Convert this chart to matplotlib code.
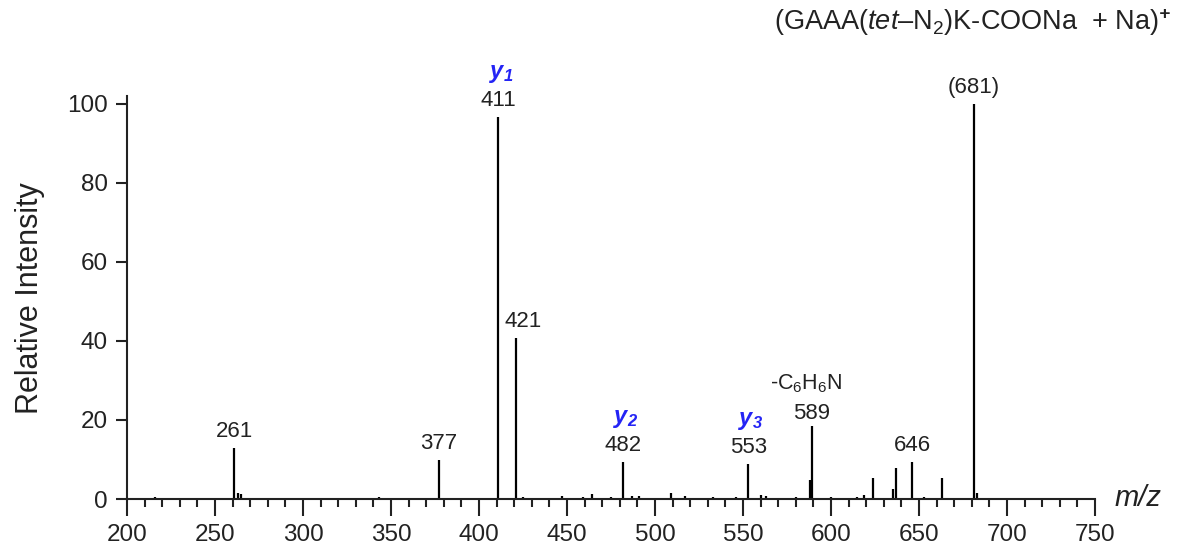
import numpy as np
import matplotlib.pyplot as plt
from matplotlib.ticker import MultipleLocator

plt.rcParams['font.family'] = ['Liberation Sans', 'DejaVu Sans']
plt.rcParams['mathtext.fontset'] = 'custom'
plt.rcParams['mathtext.rm'] = 'Liberation Sans'
plt.rcParams['mathtext.it'] = 'Liberation Sans:italic'
plt.rcParams['mathtext.bf'] = 'Liberation Sans:italic:bold'

# peak list (m/z, relative intensity)
mz = [216, 243, 261, 263, 265, 300, 320, 336, 343, 377,
      411, 421, 425, 447, 459, 464, 475, 482, 487, 491,
      509, 517, 533, 546, 553, 560, 563, 580, 588, 589,
      600, 615, 619, 624, 635, 637, 646, 653, 663, 681, 683]
intensity = [0.5, 0.3, 13.0, 1.4, 1.2, 0.3, 0.3, 0.3, 0.4, 9.9,
             96.7, 40.8, 0.6, 0.8, 0.5, 1.2, 0.4, 9.3, 0.8, 0.8,
             1.5, 0.8, 0.6, 0.5, 8.8, 1.0, 0.8, 0.5, 4.8, 18.5,
             0.4, 0.6, 1.0, 5.4, 2.5, 7.9, 9.3, 0.5, 5.3, 100.0, 1.5]

label_mz = [261, 377, 411, 421, 482, 553, 589, 646, 681]
label_text = ['261', '377', '411', '421', '482', '553', '589', '646', '(681)']
ion_mz = [411, 482, 553]
ion_text = [r'$\mathbf{y_1}$', r'$\mathbf{y_2}$', r'$\mathbf{y_3}$']

title = r'(GAAA($\mathit{tet}$–N$_2$)K-COONa  + Na)$^{\mathbf{+}}$'

fig = plt.figure(figsize=(11.8, 5.54), dpi=100)
ax = fig.add_axes([127 / 1180, 55 / 554, 968 / 1180, 403 / 554])

ax.vlines(mz, 0, intensity, color='black', lw=1.6)

ax.set_xlim(200, 750)
ax.set_ylim(0, 102)
ax.spines['top'].set_visible(False)
ax.spines['right'].set_visible(False)
for s in ['left', 'bottom']:
    ax.spines[s].set_linewidth(1.5)
    ax.spines[s].set_color('#222222')

ax.xaxis.set_major_locator(MultipleLocator(50))
ax.xaxis.set_minor_locator(MultipleLocator(10))
ax.yaxis.set_major_locator(MultipleLocator(20))
ax.tick_params(axis='x', which='major', length=12, width=1.5, labelsize=17.5,
               colors='#222222', pad=6)
ax.tick_params(axis='x', which='minor', length=6, width=1.5, colors='#222222')
ax.tick_params(axis='y', which='major', length=8, width=1.5, labelsize=17.5,
               colors='#222222', pad=6)

heights = dict(zip(mz, intensity))
for m, t in zip(label_mz, label_text):
    dx = 5 if m == 421 else 0
    dy = 5 if m == 589 else 8
    ax.annotate(t, (m, heights[m]), xytext=(dx, dy), textcoords='offset points',
                ha='center', va='baseline', fontsize=16, color='#222222')

for m, t in zip(ion_mz, ion_text):
    ax.annotate(t, (m, heights[m]), xytext=(2, 28), textcoords='offset points',
                ha='center', va='baseline', fontsize=17, color='#2424f5')

ax.annotate(r'-C$_6$H$_6$N', (589, heights[589]), xytext=(-4, 26),
            textcoords='offset points', ha='center', va='baseline',
            fontsize=15.5, color='#222222')

fig.text(30 / 1180, 0.462, 'Relative Intensity', rotation=90, ha='center',
         va='center', fontsize=22, color='#222222')
fig.text(1138 / 1180, 1 - 498 / 554, 'm/z', style='italic', ha='center',
         va='center', fontsize=21, color='#222222')
fig.text(1172 / 1180, 1 - 22 / 554, title, ha='right', va='center',
         fontsize=19.5, color='#222222')

fig.savefig('out.png', dpi=100)
